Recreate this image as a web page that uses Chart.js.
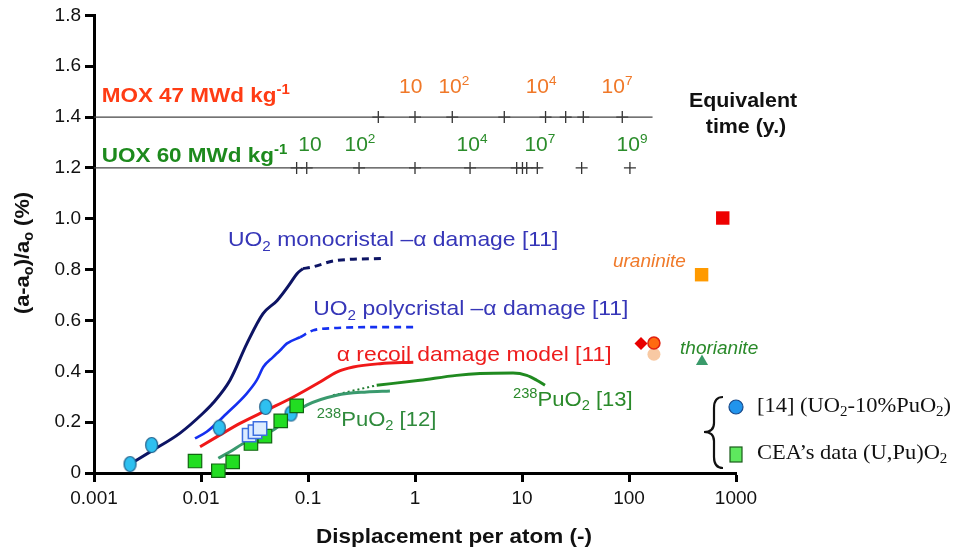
<!DOCTYPE html>
<html>
<head>
<meta charset="utf-8">
<script src="https://cdn.jsdelivr.net/npm/chart.js@4.4.1/dist/chart.umd.min.js"></script>
<style>
  html, body { margin: 0; padding: 0; background: #fff; }
</style>
</head>
<body>
<canvas id="chart" width="959" height="552"></canvas>
<script>
// ---- values ----
const xTickValues = [0.001, 0.01, 0.1, 1, 10, 100, 1000];
const xTickLabels = ['0.001', '0.01', '0.1', '1', '10', '100', '1000'];

// UO2 monocristal - alpha damage [11]
const monoSolidX = [0.00217, 0.00356, 0.00637, 0.01044, 0.01295, 0.01866, 0.0269, 0.038, 0.0513, 0.0679, 0.0789, 0.0897];
const monoSolidY = [0.035, 0.09, 0.157, 0.235, 0.275, 0.365, 0.51, 0.627, 0.678, 0.745, 0.784, 0.804];
const monoDashX = [0.0897, 0.109, 0.179, 0.502];
const monoDashY = [0.804, 0.81, 0.835, 0.844];

// UO2 polycristal - alpha damage [11]
const polySolidX = [0.00879, 0.0113, 0.01738, 0.02674, 0.0332, 0.0382, 0.0471, 0.0547, 0.0632, 0.0842];
const polySolidY = [0.136, 0.162, 0.234, 0.3125, 0.365, 0.417, 0.456, 0.482, 0.509, 0.534];
const polyDashX = [0.0842, 0.1114, 0.1607, 0.264, 0.471, 1.0];
const polyDashY = [0.534, 0.561, 0.569, 0.573, 0.574, 0.574];

// alpha recoil damage model [11]
const recoilX = [0.0098, 0.01402, 0.02312, 0.0411, 0.073, 0.1294, 0.1854, 0.265, 0.471, 0.964];
const recoilY = [0.103, 0.142, 0.195, 0.247, 0.299, 0.358, 0.397, 0.417, 0.430, 0.436];

// 238PuO2 [12]
const pu12X = [0.01452, 0.01866, 0.0248, 0.0474, 0.0679, 0.0973, 0.1854, 0.354, 0.583];
const pu12Y = [0.058, 0.0835, 0.116, 0.169, 0.221, 0.267, 0.306, 0.319, 0.323];

// 238PuO2 [13]
const pu13DotX = [0.1714, 0.4385];
const pu13DotY = [0.306, 0.345];
const pu13X = [0.4385, 1.113, 2.453, 4.05, 8.24, 11.07, 13.72, 16.4];
const pu13Y = [0.345, 0.365, 0.384, 0.391, 0.393, 0.384, 0.365, 0.345];

// [14] (UO2-10%PuO2)
const ref14X = [0.00217, 0.00346, 0.01483, 0.0402, 0.0694];
const ref14Y = [0.035, 0.11, 0.178, 0.26, 0.234];

// CEA's data (U,Pu)O2
const ceaX = [0.00879, 0.01452, 0.01978, 0.0293, 0.0396, 0.0556, 0.0784];
const ceaY = [0.047, 0.009, 0.044, 0.116, 0.145, 0.205, 0.264];
const ceaLightX = [0.0282, 0.032, 0.0356];
const ceaLightY = [0.149, 0.162, 0.175];

// natural analogues and others
const redSquareX = [752], redSquareY = [1.003];
const uraniniteX = [477], uraniniteY = [0.78];
const diamondX = [129.5], diamondY = [0.509];
const orangeDotX = [171], orangeDotY = [0.511];
const peachDotX = [171], peachDotY = [0.467];
const thorianiteX = [481], thorianiteY = [0.439];

// equivalent-time scales
const moxLineY = 1.4, moxLineEnd = 166;
const moxTickX = [0.454, 1.0, 2.23, 6.83, 16.6, 25.6, 37.4, 86.5];
const moxLabelX = [0.913, 2.31, 15.1, 77.3];
const moxLabelExp = ['', '2', '4', '7'];
const uoxLineY = 1.2, uoxLineEnd = 14.7;
const uoxTickX = [0.0783, 0.0973, 0.3, 1.0, 3.27, 8.92, 10.1, 11.07, 13.9, 36.1, 102];
const uoxLabelX = [0.1045, 0.306, 3.41, 14.7, 106.7];
const uoxLabelExp = ['', '2', '4', '7', '9'];

// ---- helpers ----
const SANS = "'Liberation Sans', Arial, sans-serif";
const SERIF = "'Liberation Serif', 'Times New Roman', serif";
const pts = (xs, ys) => xs.map((x, i) => ({ x, y: ys[i] }));

function ellipseMarker(w, h, fill, stroke) {
  const c = document.createElement('canvas');
  c.width = w + 3; c.height = h + 3;
  const g = c.getContext('2d');
  g.beginPath();
  g.ellipse(c.width / 2, c.height / 2, w / 2, h / 2, 0, 0, 2 * Math.PI);
  g.fillStyle = fill; g.fill();
  g.lineWidth = 1.2; g.strokeStyle = stroke; g.stroke();
  return c;
}

const lineDs = (xs, ys, color, width, dash) => ({
  data: pts(xs, ys), showLine: true, borderColor: color, borderWidth: width,
  borderDash: dash || [], pointRadius: 0, cubicInterpolationMode: 'monotone',
  fill: false, clip: false
});
const markDs = (xs, ys, style, radius, fill, stroke, bw) => ({
  data: pts(xs, ys), showLine: false, pointStyle: style, pointRadius: radius,
  pointBackgroundColor: fill, pointBorderColor: stroke, pointBorderWidth: bw, clip: false
});

// draws text made of normal / sup / sub parts, optionally stretched horizontally
function richText(ctx, parts, x, y, o) {
  const hs = o.hs || 1;
  const font = k => [o.style, o.weight, (k === 'n' ? o.size : Math.round(o.size * 0.66)) + 'px', o.family || SANS]
    .filter(Boolean).join(' ');
  let w = 0;
  parts.forEach(([t, k]) => { ctx.font = font(k); w += ctx.measureText(t).width; });
  ctx.save();
  ctx.translate(o.align === 'center' ? x - (w * hs) / 2 : x, y);
  ctx.scale(hs, 1);
  ctx.fillStyle = o.color;
  ctx.textAlign = 'left';
  ctx.textBaseline = 'middle';
  let cx = 0;
  parts.forEach(([t, k]) => {
    ctx.font = font(k);
    const dy = k === 'sup' ? -o.size * 0.3 : k === 'sub' ? o.size * 0.3 : 0;
    ctx.fillText(t, cx, dy);
    cx += ctx.measureText(t).width;
  });
  ctx.restore();
}

const inPlotLabels = [
  { x: 0.00118, y: 1.482, parts: [['MOX 47 MWd kg', 'n'], ['-1', 'sup']], size: 21, hs: 1.07, weight: 'bold', color: '#ff3c14' },
  { x: 0.00118, y: 1.247, parts: [['UOX 60 MWd kg', 'n'], ['-1', 'sup']], size: 21, hs: 1.07, weight: 'bold', color: '#1d8a1d' },
  { x: 0.01786, y: 0.914, parts: [['UO', 'n'], ['2', 'sub'], [' monocristal \u2013\u03b1 damage [11]', 'n']], size: 21, hs: 1.09, color: '#3636b8' },
  { x: 0.112, y: 0.643, parts: [['UO', 'n'], ['2', 'sub'], [' polycristal \u2013\u03b1 damage [11]', 'n']], size: 21, hs: 1.09, color: '#3636b8' },
  { x: 0.1854, y: 0.463, parts: [['\u03b1 recoil damage model [11]', 'n']], size: 21, hs: 1.09, color: '#ee1c1c' },
  { x: 0.1205, y: 0.208, parts: [['238', 'sup'], ['PuO', 'n'], ['2', 'sub'], [' [12]', 'n']], size: 21, hs: 1.05, color: '#2f8a3c' },
  { x: 8.24, y: 0.286, parts: [['238', 'sup'], ['PuO', 'n'], ['2', 'sub'], [' [13]', 'n']], size: 21, hs: 1.05, color: '#2a8a2a' },
  { x: 70.8, y: 0.831, parts: [['uraninite', 'n']], size: 19, style: 'italic', color: '#f07a2a' },
  { x: 300, y: 0.49, parts: [['thorianite', 'n']], size: 19, style: 'italic', color: '#2a8a2a' }
];

const annotations = {
  id: 'annotations',
  afterDatasetsDraw(chart) {
    const { ctx, scales: { x, y } } = chart;
    ctx.save();
    inPlotLabels.forEach(l => richText(ctx, l.parts, x.getPixelForValue(l.x), y.getPixelForValue(l.y), l));
    moxLabelX.forEach((v, i) => richText(ctx, [['10', 'n'], [moxLabelExp[i], 'sup']],
      x.getPixelForValue(v), y.getPixelForValue(1.518), { size: 20, hs: 1.05, color: '#f07828', align: 'center' }));
    uoxLabelX.forEach((v, i) => richText(ctx, [['10', 'n'], [uoxLabelExp[i], 'sup']],
      x.getPixelForValue(v), y.getPixelForValue(1.29), { size: 20, hs: 1.05, color: '#2a8c2a', align: 'center' }));

    // equivalent time caption
    richText(ctx, [['Equivalent', 'n']], 743, 101, { size: 20, hs: 1.07, weight: 'bold', color: '#111', align: 'center' });
    richText(ctx, [['time (y.)', 'n']], 746, 127, { size: 20, hs: 1.07, weight: 'bold', color: '#111', align: 'center' });

    // axis titles
    richText(ctx, [['Displacement per atom (-)', 'n']], 454, 537, { size: 21, hs: 1.07, weight: 'bold', color: '#111', align: 'center' });
    ctx.save();
    ctx.translate(23, 253);
    ctx.rotate(-Math.PI / 2);
    richText(ctx, [['(a-a', 'n'], ['o', 'sub'], [')/a', 'n'], ['o', 'sub'], [' (%)', 'n']], 0, 0,
      { size: 21, hs: 1.04, weight: 'bold', color: '#111', align: 'center' });
    ctx.restore();

    // legend with brace
    ctx.beginPath();
    ctx.moveTo(723, 397);
    ctx.quadraticCurveTo(714, 397, 714, 408);
    ctx.lineTo(714, 423);
    ctx.quadraticCurveTo(714, 432, 704, 432);
    ctx.quadraticCurveTo(714, 432, 714, 441);
    ctx.lineTo(714, 457);
    ctx.quadraticCurveTo(714, 468, 723, 468);
    ctx.lineWidth = 2.2; ctx.strokeStyle = '#111'; ctx.stroke();

    ctx.beginPath();
    ctx.arc(736, 407, 7, 0, 2 * Math.PI);
    ctx.fillStyle = '#2194ec'; ctx.fill();
    ctx.lineWidth = 1.2; ctx.strokeStyle = '#1a4a8a'; ctx.stroke();
    ctx.fillStyle = '#5ee85e';
    ctx.fillRect(730, 447, 12, 15);
    ctx.strokeStyle = '#1a5a1a'; ctx.strokeRect(730, 447, 12, 15);

    richText(ctx, [['[14] (UO', 'n'], ['2', 'sub'], ['-10%PuO', 'n'], ['2', 'sub'], [')', 'n']], 757, 406,
      { size: 21, hs: 1.07, family: SERIF, color: '#111' });
    richText(ctx, [['CEA\u2019s data (U,Pu)O', 'n'], ['2', 'sub']], 757, 453,
      { size: 21, hs: 1.07, family: SERIF, color: '#111' });
    ctx.restore();
  }
};

const datasets = [
  markDs(ceaLightX, ceaLightY, 'rect', 9.5, '#dcecff', '#3c6fe0', 1.5),
  markDs(ceaX, ceaY, 'rect', 9.5, '#22dd22', '#116611', 1.2),
  markDs(ref14X, ref14Y, ellipseMarker(12, 15, '#2ec0f0', '#1f5f8a'), 8),
  markDs(redSquareX, redSquareY, 'rect', 9.5, '#ee0000', '#ee0000', 0),
  markDs(uraniniteX, uraniniteY, 'rect', 9.5, '#ff9a00', '#ff9a00', 0),
  markDs(diamondX, diamondY, 'rectRot', 6.5, '#e80000', '#e80000', 0),
  markDs(orangeDotX, orangeDotY, 'circle', 6, '#ff6a10', '#e02010', 1.5),
  markDs(peachDotX, peachDotY, 'circle', 6.5, '#f8c9a3', '#f8c9a3', 0),
  markDs(thorianiteX, thorianiteY, 'triangle', 7, '#3a9a6a', '#3a9a6a', 0),
  lineDs(monoSolidX, monoSolidY, '#0d1464', 3),
  lineDs(monoDashX, monoDashY, '#0d1464', 3, [7, 5]),
  lineDs(polySolidX, polySolidY, '#1530f0', 2.6),
  lineDs(polyDashX, polyDashY, '#1530f0', 2.6, [7, 5]),
  lineDs(recoilX, recoilY, '#f01818', 3),
  lineDs(pu12X, pu12Y, '#3a9a6e', 3),
  lineDs(pu13DotX, pu13DotY, '#1d7a2d', 2, [2, 3]),
  lineDs(pu13X, pu13Y, '#208a20', 3),
  // equivalent-time scales
  lineDs([0.001, moxLineEnd], [moxLineY, moxLineY], '#444', 1.2),
  markDs(moxTickX, moxTickX.map(() => moxLineY), 'cross', 6, '#333', '#333', 1.3),
  lineDs([0.001, uoxLineEnd], [uoxLineY, uoxLineY], '#444', 1.2),
  markDs(uoxTickX, uoxTickX.map(() => uoxLineY), 'cross', 6, '#333', '#333', 1.3)
];

new Chart(document.getElementById('chart'), {
  type: 'scatter',
  data: { datasets },
  plugins: [annotations],
  options: {
    responsive: false,
    animation: false,
    devicePixelRatio: 1,
    layout: { padding: { left: 0, right: 223, top: 14, bottom: 0 } },
    plugins: { legend: { display: false }, tooltip: { enabled: false } },
    scales: {
      x: {
        type: 'logarithmic',
        min: 0.001,
        max: 1000,
        afterBuildTicks: s => { s.ticks = xTickValues.map(v => ({ value: v, major: true })); },
        afterFit: s => { s.height = 79; },
        ticks: {
          autoSkip: false, maxRotation: 0, padding: 5, color: '#111',
          font: { family: SANS, size: 19 },
          callback: (v, i) => xTickLabels[i]
        },
        grid: { drawOnChartArea: false, tickLength: 9, tickWidth: 3, tickColor: '#000' },
        border: { width: 3, color: '#000' }
      },
      y: {
        min: 0,
        max: 1.8,
        afterFit: s => { s.width = 94; },
        ticks: {
          stepSize: 0.2, padding: 4, color: '#111',
          font: { family: SANS, size: 19 },
          callback: v => (v === 0 ? '0' : v.toFixed(1))
        },
        grid: { drawOnChartArea: false, tickLength: 9, tickWidth: 3, tickColor: '#000' },
        border: { width: 3, color: '#000' }
      }
    }
  }
});
</script>
</body>
</html>
